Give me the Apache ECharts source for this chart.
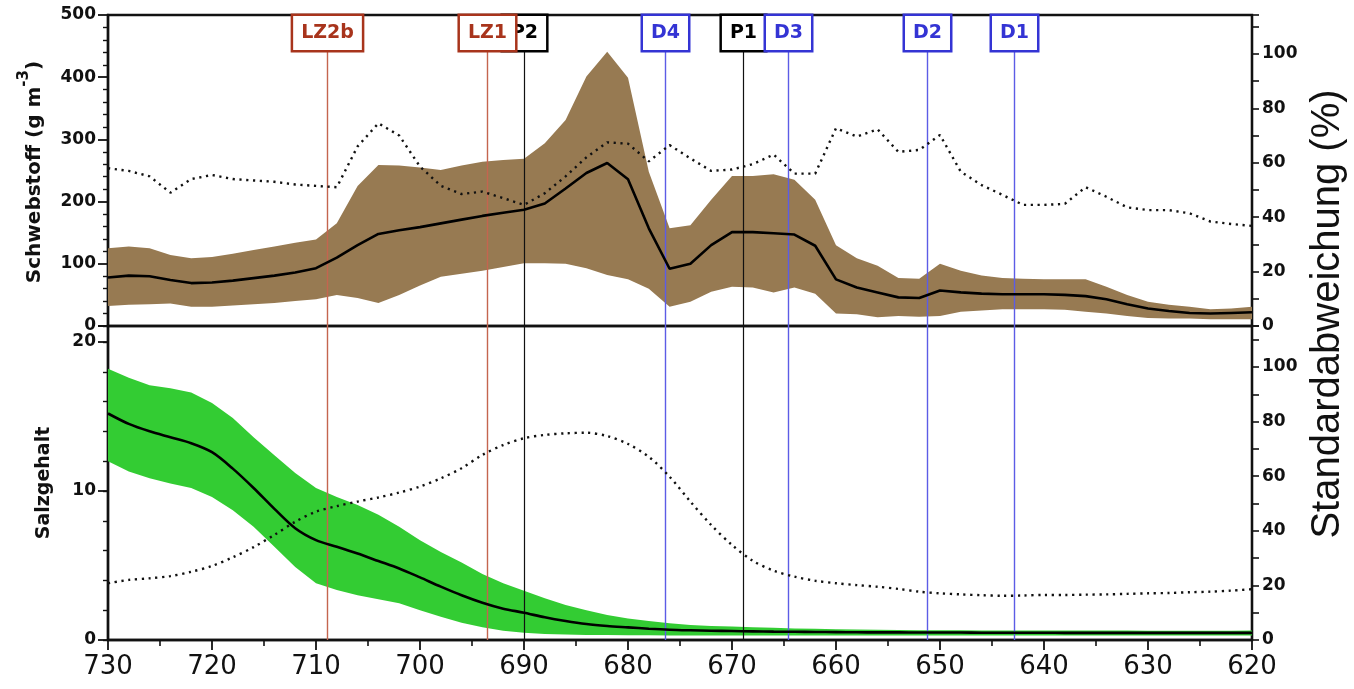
<!DOCTYPE html>
<html>
<head>
<meta charset="utf-8">
<script src="https://cdn.jsdelivr.net/npm/echarts@6/dist/echarts.min.js"></script>
<style>
  html, body { margin: 0; padding: 0; background: #fff; }
  #chart { width: 1354px; height: 689px; }
</style>
</head>
<body>
<div id="chart"></div>
<script>
// Elbe-km stations (every 2 km, upstream to downstream)
const km = [730,728,726,724,722,720,718,716,714,712,710,708,706,704,702,700,698,696,694,692,
            690,688,686,684,682,680,678,676,674,672,670,668,666,664,662,660,658,656,654,652,
            650,648,646,644,642,640,638,636,634,632,630,628,626,624,622,620];

// Suspended matter (g m^-3): mean, upper and lower envelope, relative std. dev. (%)
const ssMean  = [78,81,80,74,69,70,73,77,81,86,93,110,130,148,154,159,165,171,177,182,
                 187,197,221,246,262,236,157,92,100,130,151,151,149,147,129,75,62,54,46,45,
                 57,54,52,51,51,51,50,48,43,35,28,24,21,20,21,22];
const ssUpper = [125,128,125,114,109,111,116,122,128,134,139,165,225,259,258,255,251,258,264,267,
                 269,294,331,401,441,399,248,157,162,203,241,241,244,235,203,130,109,97,77,76,
                 100,89,81,77,76,75,75,75,63,50,39,34,31,27,28,31];
const ssLower = [32,34,35,36,31,31,33,35,37,40,43,50,45,37,50,65,79,84,89,95,
                 101,101,100,93,82,75,60,31,39,55,63,62,54,62,52,20,19,14,16,15,
                 16,23,25,27,27,27,26,23,20,16,13,12,12,11,11,11];
const ssStd   = [58,57,55,49,54,55.5,54,53.5,53,52,51.5,51,66,74.5,70,58.6,51.5,48.5,49.4,47,
                 44.5,48.8,55,62,67.5,67,60.5,66.5,61.6,57,57.5,59.5,63,56,56,72.7,69.6,72.3,64,64.7,
                 70.2,56.7,51.8,48.2,44.5,44.5,44.9,51,47.5,43.6,42.6,42.6,41.4,38.4,37.5,36.8];

// Salinity: mean, upper and lower envelope, relative std. dev. (%)
const saMean  = [15.2,14.5,14.0,13.6,13.2,12.6,11.5,10.2,8.8,7.5,6.7,6.26,5.8,5.3,4.8,4.2,3.58,3.0,2.5,2.1,
                 1.83,1.52,1.27,1.07,0.94,0.85,0.76,0.69,0.65,0.62,0.6,0.58,0.56,0.55,0.54,0.53,0.52,0.51,0.51,0.5,
                 0.5,0.5,0.49,0.49,0.49,0.49,0.48,0.48,0.48,0.48,0.48,0.48,0.48,0.48,0.48,0.48];
const saUpper = [18.2,17.6,17.1,16.9,16.6,15.9,14.9,13.6,12.4,11.2,10.2,9.6,9.06,8.4,7.6,6.7,5.9,5.2,4.43,3.8,
                 3.3,2.8,2.35,2.0,1.68,1.45,1.27,1.12,1.0,0.94,0.9,0.85,0.82,0.78,0.75,0.72,0.7,0.68,0.67,0.66,
                 0.65,0.65,0.64,0.64,0.64,0.63,0.63,0.63,0.63,0.63,0.62,0.62,0.62,0.62,0.62,0.63];
const saLower = [12.0,11.3,10.85,10.5,10.2,9.6,8.7,7.6,6.26,4.9,3.8,3.36,3.0,2.73,2.46,2.0,1.56,1.16,0.85,0.62,
                 0.49,0.4,0.37,0.34,0.33,0.32,0.32,0.31,0.31,0.31,0.3,0.3,0.3,0.3,0.3,0.3,0.3,0.3,0.3,0.3,
                 0.3,0.3,0.3,0.3,0.3,0.3,0.3,0.3,0.3,0.3,0.3,0.3,0.3,0.3,0.3,0.3];
const saStd   = [20.8,22,22.6,23.4,25,27.1,30.3,34,38.5,43.3,47,49,50.7,52.2,54,56.2,59.2,62.9,67.8,71.4,
                 73.9,75.1,75.7,75.9,74.7,71.8,67.1,59.8,50.7,42.1,34.8,29,25.4,23.2,21.7,20.8,20.1,19.5,18.7,17.7,
                 17.1,16.7,16.4,16.2,16.3,16.5,16.5,16.6,16.7,16.9,17.1,17.2,17.5,17.7,18.1,18.6];

// Reference stations along the river
const markerKm     = [708.9, 690.0, 693.6, 676.4, 668.9, 664.6, 651.25, 642.9];
const markerNames  = ['LZ2b', 'P2', 'LZ1', 'D4', 'P1', 'D3', 'D2', 'D1'];
const markerGroups = ['LZ', 'P', 'LZ', 'D', 'P', 'D', 'D', 'D'];

// Axis ranges
const kmRange   = [620, 730];
const ssRange   = [0, 500];
const saRange   = [0, 21.07];
const pctTopMax = 114.3;
const pctBotMax = 115;

const groupStyle = {
  LZ: { text: '#a8341c', line: '#c4654f', w: 1.4 },
  P:  { text: '#000000', line: '#111111', w: 1.2 },
  D:  { text: '#3434d4', line: '#5c5ce6', w: 1.4 }
};

const INK = '#111';
const tickFont = { fontFamily: 'DejaVu Sans', fontWeight: 'bold', fontSize: 17, color: INK };

const pairs = (ys) => km.map((k, i) => [k, ys[i]]);

function band(xi, yi, upper, lower, color) {
  return {
    type: 'custom', xAxisIndex: xi, yAxisIndex: yi, silent: true, z: 1,
    data: [[km[0], upper[0]]],
    renderItem: function (params, api) {
      if (params.dataIndex !== 0) return null;
      const pts = [];
      for (let i = 0; i < km.length; i++) pts.push(api.coord([km[i], upper[i]]));
      for (let i = km.length - 1; i >= 0; i--) pts.push(api.coord([km[i], lower[i]]));
      return { type: 'polygon', shape: { points: pts }, style: { fill: color } };
    }
  };
}

function meanLine(xi, yi, ys, smooth) {
  return {
    type: 'line', xAxisIndex: xi, yAxisIndex: yi, data: pairs(ys), smooth: smooth,
    symbol: 'none', silent: true, z: 5,
    lineStyle: { color: '#000', width: 2.6 }
  };
}

function stdLine(xi, yi, ys, smooth) {
  return {
    type: 'line', xAxisIndex: xi, yAxisIndex: yi, data: pairs(ys), smooth: smooth,
    symbol: 'none', silent: true, z: 5,
    lineStyle: { color: '#111', width: 2.4, type: [2.2, 4.6], cap: 'butt' }
  };
}

function markers(xi, yi, withBoxes) {
  return {
    type: 'custom', xAxisIndex: xi, yAxisIndex: yi, silent: true, z: 4,
    data: markerKm.map(k => [k, 0]),
    encode: { x: 0, y: 1 },
    renderItem: function (params, api) {
      const cs = params.coordSys;
      const i = params.dataIndex;
      const st = groupStyle[markerGroups[i]];
      const x = Math.round(api.coord([api.value(0), 0])[0]) + 0.5;
      const children = [{
        type: 'line',
        shape: { x1: x, y1: cs.y, x2: x, y2: cs.y + cs.height },
        style: { stroke: st.line, lineWidth: st.w }
      }];
      if (withBoxes) {
        children.push({
          type: 'text', x: x, y: cs.y + 18, z2: 10,
          style: {
            text: markerNames[i], fill: st.text,
            fontFamily: 'DejaVu Sans', fontWeight: 'bold', fontSize: 19,
            align: 'center', verticalAlign: 'middle',
            backgroundColor: '#fff', borderColor: st.text, borderWidth: 2.5,
            padding: [8, 8, 7, 8]
          }
        });
      }
      return { type: 'group', children: children };
    }
  };
}

function pctAxis(gridIndex, max) {
  return {
    type: 'value', gridIndex: gridIndex, position: 'right', min: 0, max: max, interval: 10,
    axisLine: { show: true, lineStyle: { color: INK, width: 2.2 } },
    axisTick: { show: true, inside: false, length: 7, lineStyle: { color: INK, width: 1.6 } },
    axisLabel: Object.assign({
      margin: 10,
      formatter: v => (Math.abs(v % 20) < 1e-6 && v <= 100 + 1e-6) ? String(Math.round(v)) : ''
    }, tickFont),
    splitLine: { show: false }
  };
}

const chart = echarts.init(document.getElementById('chart'), null, { renderer: 'canvas' });

chart.setOption({
  animation: false,
  backgroundColor: '#fff',
  grid: [
    { left: 108, top: 15, width: 1144, height: 311, show: true, borderColor: INK, borderWidth: 2.4, backgroundColor: 'transparent' },
    { left: 108, top: 326, width: 1144, height: 314, show: true, borderColor: INK, borderWidth: 2.4, backgroundColor: 'transparent' }
  ],
  xAxis: [
    { type: 'value', gridIndex: 0, min: kmRange[0], max: kmRange[1], inverse: true, show: false },
    {
      type: 'value', gridIndex: 1, min: kmRange[0], max: kmRange[1], inverse: true, interval: 10,
      axisLine: { show: true, onZero: false, lineStyle: { color: INK, width: 2.4 } },
      axisTick: { show: true, length: 10, lineStyle: { color: INK, width: 1.8 } },
      minorTick: { show: true, splitNumber: 2, length: 6, lineStyle: { color: INK, width: 1.6 } },
      axisLabel: { margin: 14, fontFamily: 'DejaVu Sans', fontSize: 26, color: INK },
      splitLine: { show: false }
    }
  ],
  yAxis: [
    {
      type: 'value', gridIndex: 0, position: 'left', min: ssRange[0], max: ssRange[1], interval: 100,
      axisLine: { show: true, lineStyle: { color: INK, width: 2.4 } },
      axisTick: { show: true, length: 10, lineStyle: { color: INK, width: 1.8 } },
      minorTick: { show: true, splitNumber: 5, length: 5, lineStyle: { color: INK, width: 1.4 } },
      axisLabel: Object.assign({ margin: 12 }, tickFont),
      splitLine: { show: false }
    },
    pctAxis(0, pctTopMax),
    {
      type: 'value', gridIndex: 1, position: 'left', min: saRange[0], max: saRange[1], interval: 10,
      axisLine: { show: true, lineStyle: { color: INK, width: 2.4 } },
      axisTick: { show: true, length: 10, lineStyle: { color: INK, width: 1.8 } },
      axisLabel: Object.assign({
        margin: 12,
        formatter: v => (Math.abs(v % 10) < 1e-6) ? String(Math.round(v)) : ''
      }, tickFont),
      splitLine: { show: false }
    },
    pctAxis(1, pctBotMax),
    {
      // finer ticks on the salinity axis
      type: 'value', gridIndex: 1, position: 'left', min: saRange[0], max: saRange[1], interval: 2,
      axisLine: { show: false },
      axisTick: { show: true, length: 5, lineStyle: { color: INK, width: 1.4 } },
      axisLabel: { show: false },
      splitLine: { show: false }
    }
  ],
  graphic: [
    {
      type: 'text', x: 31, y: 172, rotation: Math.PI / 2,
      style: {
        text: '{a|Schwebstoff (g m}{s|-3}{a|)}',
        align: 'center', verticalAlign: 'middle',
        rich: {
          a: { fontFamily: 'DejaVu Sans', fontWeight: 'bold', fontSize: 20, fill: INK, lineHeight: 28, verticalAlign: 'bottom' },
          s: { fontFamily: 'DejaVu Sans', fontWeight: 'bold', fontSize: 15, fill: INK, lineHeight: 28, verticalAlign: 'top' }
        }
      }
    },
    {
      type: 'text', x: 44, y: 483, rotation: Math.PI / 2,
      style: { text: 'Salzgehalt', fontFamily: 'DejaVu Sans', fontWeight: 'bold', fontSize: 19, fill: INK, align: 'center', verticalAlign: 'middle' }
    },
    {
      type: 'text', x: 1328, y: 314, rotation: Math.PI / 2,
      style: { text: 'Standardabweichung (%)', fontFamily: 'Liberation Sans', fontSize: 40, fill: INK, align: 'center', verticalAlign: 'middle' }
    }
  ],
  series: [
    band(0, 0, ssUpper, ssLower, '#977a52'),
    meanLine(0, 0, ssMean, false),
    stdLine(0, 1, ssStd, false),
    markers(0, 0, true),
    band(1, 2, saUpper, saLower, '#33cc33'),
    meanLine(1, 2, saMean, 0.3),
    stdLine(1, 3, saStd, 0.3),
    markers(1, 2, false)
  ]
});
</script>
</body>
</html>
